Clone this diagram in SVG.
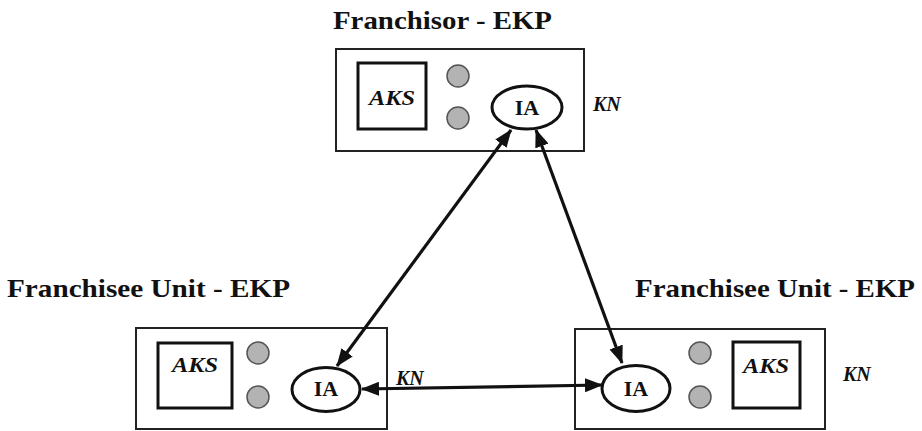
<svg xmlns="http://www.w3.org/2000/svg" width="922" height="431" viewBox="0 0 922 431" font-family="Liberation Serif, DejaVu Serif, serif">
  <defs>
    <marker id="head" viewBox="0 0 18 14" refX="17" refY="7" markerWidth="18" markerHeight="14" markerUnits="userSpaceOnUse" orient="auto-start-reverse">
      <path d="M0,0 L18,7 L0,14 z" fill="#111"/>
    </marker>
  </defs>
  <style>
    text { fill: #111; }
    .title { font-weight: bold; font-size: 26px; }
    .frame { fill: #fff; stroke: #222; stroke-width: 2; }
    .aks { fill: #fff; stroke: #111; stroke-width: 3; }
    .aks-t { font-weight: bold; font-style: italic; font-size: 22px; text-anchor: middle; }
    .dot { fill: #b3b3b3; stroke: #555; stroke-width: 1.5; }
    .ia { fill: #fff; stroke: #111; stroke-width: 3; }
    .ia-t { font-weight: bold; font-size: 22px; text-anchor: middle; }
    .kn { font-weight: bold; font-style: italic; font-size: 20px; }
    .link { stroke: #111; stroke-width: 3.2; fill: none; marker-start: url(#head); marker-end: url(#head); }
  </style>
  <rect width="922" height="431" fill="#fff"/>

  <!-- franchisor node -->
  <g id="franchisor">
    <text class="title" x="333" y="29" textLength="219" lengthAdjust="spacingAndGlyphs">Franchisor - EKP</text>
    <rect class="frame" x="336" y="49" width="248" height="102"/>
    <rect class="aks" x="358" y="63" width="68" height="66"/>
    <text class="aks-t" x="392" y="105" textLength="46" lengthAdjust="spacingAndGlyphs">AKS</text>
    <circle class="dot" cx="458" cy="76" r="11"/>
    <circle class="dot" cx="458" cy="118" r="11"/>
    <ellipse class="ia" cx="527" cy="107.5" rx="35" ry="21.5"/>
    <text class="ia-t" x="527" y="115">IA</text>
    <text class="kn" x="593" y="111">KN</text>
  </g>

  <!-- franchisee unit, left -->
  <g id="franchisee-left">
    <text class="title" x="7" y="297" textLength="283" lengthAdjust="spacingAndGlyphs">Franchisee Unit - EKP</text>
    <rect class="frame" x="136" y="328" width="251" height="101"/>
    <rect class="aks" x="158" y="343" width="74" height="65"/>
    <text class="aks-t" x="195" y="372" textLength="46" lengthAdjust="spacingAndGlyphs">AKS</text>
    <circle class="dot" cx="258" cy="353" r="11"/>
    <circle class="dot" cx="258" cy="397" r="11"/>
    <ellipse class="ia" cx="326" cy="389.5" rx="34" ry="22"/>
    <text class="ia-t" x="326" y="396">IA</text>
    <text class="kn" x="396" y="385">KN</text>
  </g>

  <!-- franchisee unit, right -->
  <g id="franchisee-right">
    <text class="title" x="635" y="297" textLength="280" lengthAdjust="spacingAndGlyphs">Franchisee Unit - EKP</text>
    <rect class="frame" x="575" y="329" width="250" height="100"/>
    <circle class="dot" cx="700" cy="353" r="11"/>
    <circle class="dot" cx="700" cy="397" r="11"/>
    <rect class="aks" x="733" y="342" width="67" height="66"/>
    <text class="aks-t" x="766" y="373" textLength="46" lengthAdjust="spacingAndGlyphs">AKS</text>
    <ellipse class="ia" cx="636" cy="388.5" rx="34" ry="23"/>
    <text class="ia-t" x="636" y="396">IA</text>
    <text class="kn" x="843" y="381">KN</text>
  </g>

  <!-- two-way links between the IA agents -->
  <g id="connectors">
    <line class="link" x1="337" y1="366" x2="511" y2="130"/>
    <line class="link" x1="622" y1="363" x2="536" y2="130"/>
    <line class="link" x1="362" y1="389" x2="602" y2="385"/>
  </g>
</svg>
